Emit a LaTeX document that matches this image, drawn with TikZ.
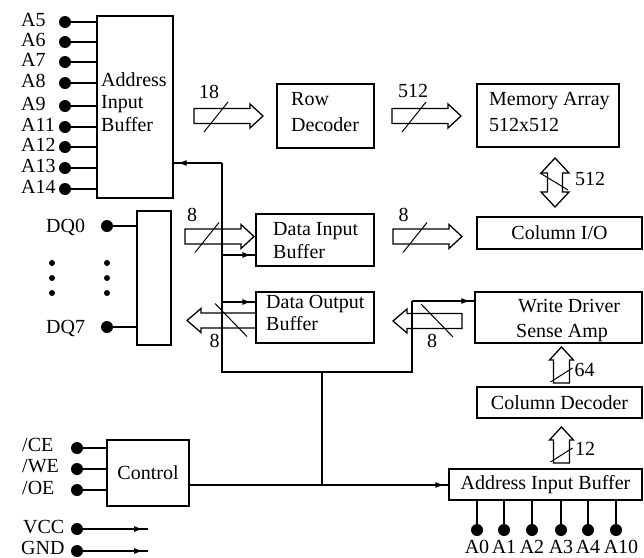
\documentclass[tikz,border=0pt]{standalone}
\usepackage{fontspec}
\setmainfont{Liberation Serif}
\usetikzlibrary{arrows.meta,decorations.markings,calc}
\begin{document}
\begin{tikzpicture}[x=1pt,y=-1pt,
  every node/.style={font=\fontsize{20}{24}\selectfont, inner sep=0pt},
  wire/.style={line width=1.3pt},
  box/.style={draw, line width=1.3pt, rectangle, anchor=center},
  pin/.style={circle, fill=black, minimum size=12pt, inner sep=0pt},
  sdot/.style={circle, fill=black, minimum size=6pt, inner sep=0pt},
  lbl/.style={anchor=base west},
  num/.style={anchor=center},
  tipend/.style={postaction={decorate}, decoration={markings, mark=at position #1 with {\arrow{Latex[length=9pt,width=6pt]}}}},
  tipend/.default=-4pt,
  busR/.pic={\draw[line width=1.3pt, line join=miter] (0,-7.5) -- (56,-7.5) -- (56,-12) -- (69,0) -- (56,12) -- (56,7.5) -- (0,7.5) -- cycle;
             \draw[line width=1pt] (10,16) -- (34,-14);},
  busL/.pic={\draw[line width=1.3pt, line join=miter] (0,-7.5) -- (-55,-7.5) -- (-55,-12) -- (-69,0) -- (-55,12) -- (-55,7.5) -- (0,7.5) -- cycle;
             \draw[line width=1pt] (-41,-17) -- (-9,16);},
  busU/.pic={\draw[line width=1.3pt, line join=miter] (-8,0) -- (-8,-23) -- (-12,-23) -- (0,-36) -- (12,-23) -- (8,-23) -- (8,0) -- cycle;
             \draw[line width=1pt] (-11,-1) -- (11,-15);},
  busUD/.pic={\draw[line width=1.3pt, line join=miter] (0,-24.5) -- (14,-9.5) -- (7.5,-9.5) -- (7.5,9.5) -- (14,9.5) -- (0,24.5) -- (-14,9.5) -- (-7.5,9.5) -- (-7.5,-9.5) -- (-14,-9.5) -- cycle;
             \draw[line width=1pt] (-15,-9.5) -- (13,7.5);},
]
\useasboundingbox (0,0) rectangle (644,557);

% ---------- boxes ----------
\node[box, minimum width=76pt,  minimum height=182pt] (aib)   at (135,107)   {};
\node[box, minimum width=97pt,  minimum height=64pt]  (rowd)  at (325.5,116) {};
\node[box, minimum width=142pt, minimum height=63pt]  (mem)   at (548,115.5) {};
\node[box, minimum width=34pt,  minimum height=134pt] (dqb)   at (154,278)   {};
\node[box, minimum width=118pt, minimum height=52pt]  (din)   at (315,240)   {};
\node[box, minimum width=118pt, minimum height=51pt]  (dout)  at (315,317.5) {};
\node[box, minimum width=165pt, minimum height=32pt]  (colio) at (559.5,233) {Column I/O};
\node[box, minimum width=167pt, minimum height=51pt]  (wdsa)  at (558.5,317.5) {};
\node[box, minimum width=165pt, minimum height=31pt]  (cdec)  at (559.5,402.5) {Column Decoder};
\node[box, minimum width=193pt, minimum height=31pt]  (aib2)  at (545.5,484.5) {Address Input Buffer};
\node[box, minimum width=82pt,  minimum height=66pt]  (ctrl)  at (148,473)   {Control};

% ---------- box texts ----------
\node[lbl] (tA1) at (101,86)  {Address};
\node[lbl] (tA2) at (101,108) {Input};
\node[lbl] (tA3) at (101,131) {Buffer};
\node[lbl] (tR1) at (291,105) {Row};
\node[lbl] (tR2) at (291,131) {Decoder};
\node[lbl] (tM1) at (489,105) {Memory Array};
\node[lbl] (tM2) at (489,131) {512x512};
\node[lbl] (tI1) at (273,235) {Data Input};
\node[lbl] (tI2) at (273,258) {Buffer};
\node[lbl] (tO1) at (266,308) {Data Output};
\node[lbl] (tO2) at (266,330) {Buffer};
\node[lbl] (tW1) at (518,312) {Write Driver};
\node[lbl] (tW2) at (516,337) {Sense Amp};

% ---------- address pins (top) ----------
\foreach \n/\y in {A5/22,A6/42,A7/62,A8/83,A9/106,A11/127,A12/147,A13/168,A14/189} {
  \node[pin] (p\n) at (65,\y) {};
  \node[lbl] (l\n) at (21,\y+4) {\n};
  \draw[wire] (p\n) -- (p\n -| aib.west);
}

% ---------- DQ pins ----------
\node[pin] (dq0) at (107,226) {};
\node[lbl] (ldq0) at (46,232) {DQ0};
\node[pin] (dq7) at (107,327) {};
\node[lbl] (ldq7) at (46,333) {DQ7};
\draw[wire] (dq0) -- (dq0 -| dqb.west);
\draw[wire] (dq7) -- (dq7 -| dqb.west);
\foreach \y [count=\i] in {263,278,293} {
  \node[sdot] (el\i) at (52,\y) {};
  \node[sdot] (er\i) at (107,\y) {};
}

% ---------- control pins ----------
\node[pin] (cce) at (77,448) {};
\node[lbl] (lcce) at (22,451) {/CE};
\node[pin] (cwe) at (77,469) {};
\node[lbl] (lcwe) at (22,472) {/WE};
\node[pin] (coe) at (77,490) {};
\node[lbl] (lcoe) at (22,494) {/OE};
\draw[wire] (cce) -- (cce -| ctrl.west);
\draw[wire] (cwe) -- (cwe -| ctrl.west);
\draw[wire] (coe) -- (coe -| ctrl.west);
\node[pin] (vcc) at (77,529) {};
\node[lbl] (lvcc) at (23,533) {VCC};
\node[pin] (gnd) at (77,551) {};
\node[lbl] (lgnd) at (21,554) {GND};
\coordinate (vcce) at (148,529);
\coordinate (gnde) at (148,551);
\draw[wire, tipend=-5pt] (vcc) -- (vcce);
\draw[wire, tipend=-5pt] (gnd) -- (gnde);

% ---------- address pins (bottom) ----------
\foreach \n/\x/\s in {A0/477/0,A1/504/0,A2/532/0,A3/561/0,A4/588/0,A10/616/5} {
  \node[pin] (b\n) at (\x,530) {};
  \draw[wire] (b\n) -- (b\n |- aib2.south);
  \node[anchor=base] (lb\n) at (\x+\s,553) {\n};
}

% ---------- control bus ----------
\coordinate (j1) at (222,163);
\coordinate (j2) at (222,372);
\coordinate (j3) at (412,372);
\coordinate (j4) at (412,301);
\coordinate (j5) at (322,372);
\coordinate (j6) at (322,485);
\coordinate (j7) at (222,255);
\coordinate (j8) at (222,302);
\draw[wire] (j1) -- (j2) -- (j3) -- (j4);
\draw[wire] (j5) -- (j6);
\draw[wire, tipend] (j1) -- (j1 -| aib.east);
\draw[wire, tipend] (j4) -- (j4 -| wdsa.west);
\draw[wire, tipend] (j7) -- (j7 -| din.west);
\draw[wire, tipend] (j8) -- (j8 -| dout.west);
\draw[wire, tipend] (ctrl.east |- j6) -- (j6 -| aib2.west);

% ---------- bus arrows ----------
\pic (b18)   at (194,116)   {busR};
\pic (b512)  at (392,116)   {busR};
\pic (bdi)   at (185,236.5) {busR};
\pic (bcio)  at (393,236.5) {busR};
\pic (bdo)   at (256,320.5) {busL};
\pic (bwd)   at (462,321)   {busL};
\pic (bmem)  at (555,182.5) {busUD};
\pic (b64)   at (561.5,383) {busU};
\pic (b12)   at (561.5,463) {busU};

\node[num] (n18)   at (209,91.5)  {18};
\node[num] (n512)  at (413,91)    {512};
\node[num] (n8a)   at (192,214.5) {8};
\node[num] (n8b)   at (403.5,215) {8};
\node[num] (n8c)   at (214.5,341) {8};
\node[num] (n8d)   at (432,341)   {8};
\node[num] (n512b) at (590,179)   {512};
\node[num] (n64)   at (584.5,369.5) {64};
\node[num] (n12)   at (585,448.5) {12};
\end{tikzpicture}
\end{document}
